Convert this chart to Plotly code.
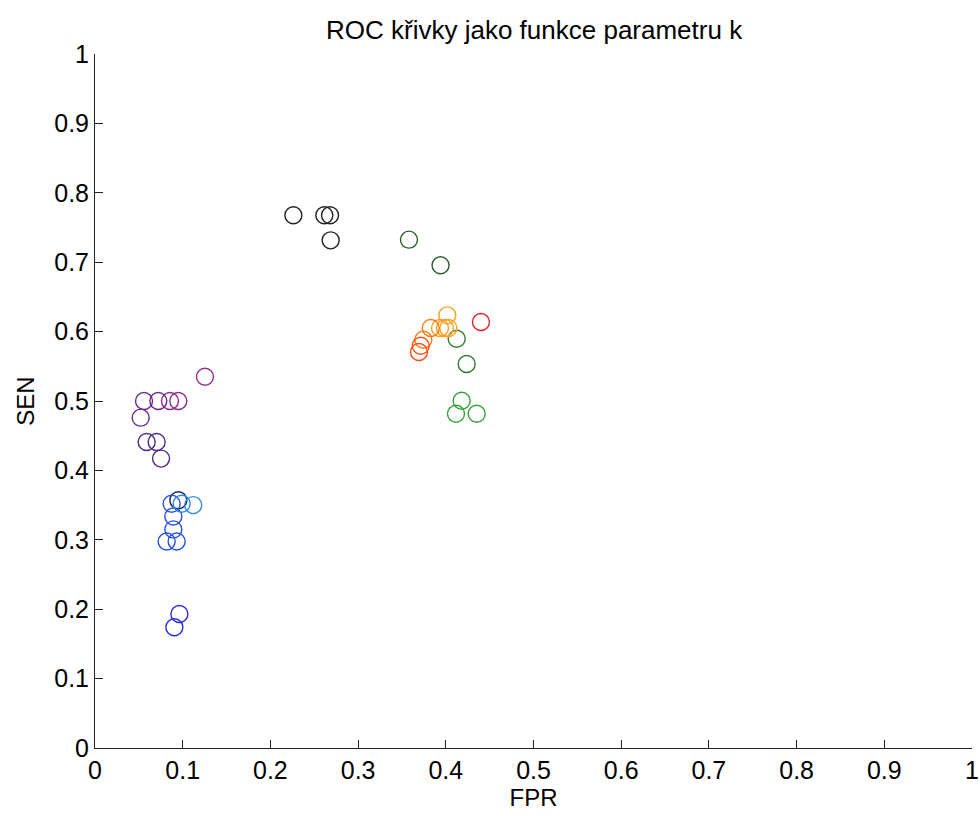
import plotly.graph_objects as go

# Series of points (FPR, SEN) grouped by colour
series_names = ["s1", "s2", "s3", "s4", "s5", "s6", "s7", "s8", "s9", "s10", "s11", "s12", "s13", "s14", "s15"]
series_x = [
    [0.1254, 0.095, 0.0855],
    [0.0722, 0.0559, 0.0521],
    [0.0589, 0.0703, 0.0753],
    [0.095],
    [0.0874, 0.0893, 0.0893, 0.0817, 0.0931],
    [0.0988, 0.112],
    [0.0962, 0.0905],
    [0.2262, 0.2615, 0.268, 0.2687],
    [0.358, 0.394],
    [0.4124, 0.4238],
    [0.4181, 0.4116, 0.4352],
    [0.4017, 0.3934, 0.399, 0.4029],
    [0.3828, 0.3744],
    [0.3714, 0.3694],
    [0.4401],
]
series_y = [
    [0.535, 0.5, 0.5],
    [0.5, 0.5, 0.476],
    [0.441, 0.441, 0.417],
    [0.357],
    [0.352, 0.3335, 0.315, 0.2975, 0.2975],
    [0.352, 0.35],
    [0.193, 0.174],
    [0.7676, 0.7676, 0.7676, 0.7315],
    [0.7325, 0.6955],
    [0.5898, 0.5533],
    [0.5004, 0.4816, 0.4816],
    [0.6234, 0.6052, 0.6052, 0.6052],
    [0.6052, 0.5883],
    [0.5797, 0.5706],
    [0.6138],
]
series_colors = ["#8E2C8E", "#6B2A8C", "#4A2A8C", "#1C1C5C", "#2850E8", "#2A8FE0", "#2A2AE0",
                 "#222222", "#2E5A2E", "#2E7D2E", "#34A034", "#FFA020", "#FF7A10", "#FF4A10", "#E0202A"]

tick_vals = [i / 10 for i in range(11)]
tick_text = ["0", "0.1", "0.2", "0.3", "0.4", "0.5", "0.6", "0.7", "0.8", "0.9", "1"]

fig = go.Figure()
for name, xs, ys, c in zip(series_names, series_x, series_y, series_colors):
    fig.add_trace(go.Scatter(
        x=xs, y=ys, mode="markers", name=name,
        marker=dict(symbol="circle-open", size=17, color=c, line=dict(width=1.4, color=c)),
        showlegend=False,
    ))

font_family = "Liberation Sans, Arial, sans-serif"
axis_common = dict(
    range=[0, 1], tickvals=tick_vals, ticktext=tick_text,
    ticks="inside", ticklen=8, tickwidth=1, tickcolor="#222",
    showline=True, linecolor="#222", linewidth=1, mirror=False,
    showgrid=False, zeroline=False, automargin=False,
    tickfont=dict(family=font_family, size=25, color="black"),
)

fig.update_layout(
    width=980, height=816,
    margin=dict(l=95, r=8, t=54, b=68),
    paper_bgcolor="white", plot_bgcolor="white",
    title=dict(text="ROC křivky jako funkce parametru k", x=0.545, xanchor="center",
               y=0.963, yanchor="middle",
               font=dict(family=font_family, size=26, color="black")),
    xaxis=dict(**axis_common, title=dict(text="FPR", standoff=2,
               font=dict(family=font_family, size=24, color="black"))),
    yaxis=dict(**axis_common, title=dict(text="SEN", standoff=12,
               font=dict(family=font_family, size=24, color="black"))),
)

fig.write_html("out.html")
